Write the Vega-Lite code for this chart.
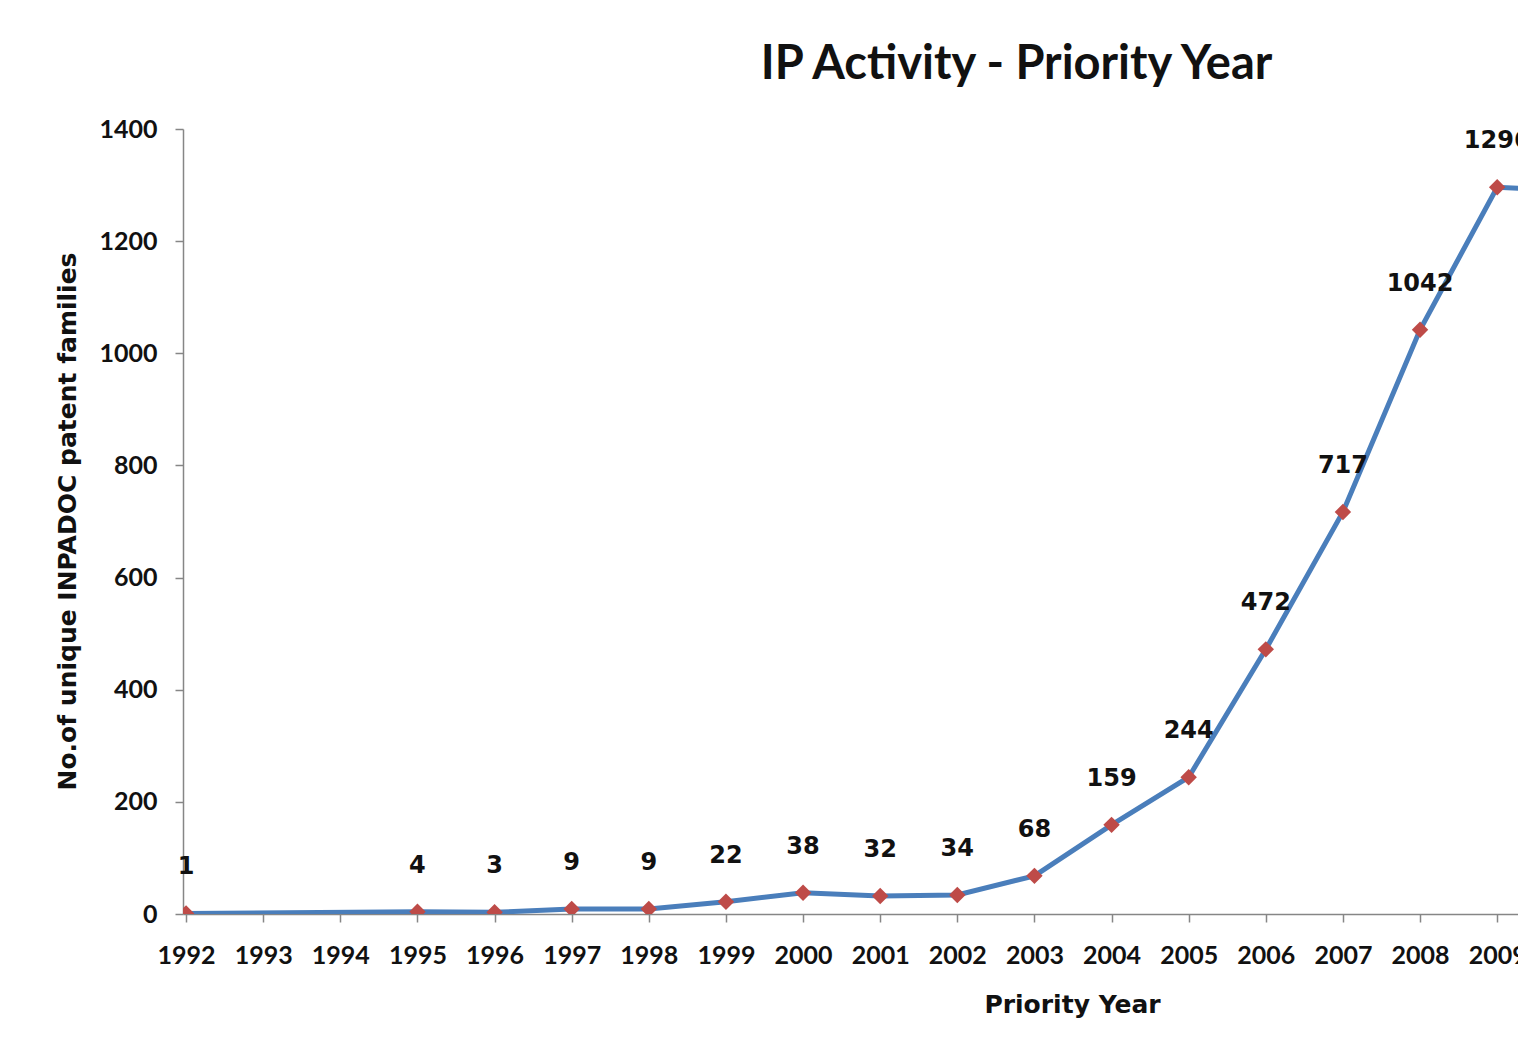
{
  "$schema": "https://vega.github.io/schema/vega-lite/v6.json",
  "autosize": "none",
  "width": 1335,
  "height": 785,
  "padding": {"left": 183, "top": 129, "right": 0, "bottom": 145},
  "background": "white",
  "title": {
    "text": "IP Activity - Priority Year",
    "font": "Lato",
    "fontSize": 47,
    "fontWeight": "bold",
    "color": "#111111",
    "anchor": "middle",
    "dx": 166,
    "offset": 28
  },
  "data": {
    "values": [
      {"year": 1992, "count": 1},
      {"year": 1995, "count": 4},
      {"year": 1996, "count": 3},
      {"year": 1997, "count": 9},
      {"year": 1998, "count": 9},
      {"year": 1999, "count": 22},
      {"year": 2000, "count": 38},
      {"year": 2001, "count": 32},
      {"year": 2002, "count": 34},
      {"year": 2003, "count": 68},
      {"year": 2004, "count": 159},
      {"year": 2005, "count": 244},
      {"year": 2006, "count": 472},
      {"year": 2007, "count": 717},
      {"year": 2008, "count": 1042},
      {"year": 2009, "count": 1296},
      {"year": 2010, "count": 1290}
    ]
  },
  "encoding": {
    "x": {
      "field": "year",
      "type": "quantitative",
      "scale": {"domain": [1991.96, 2009.27], "nice": false, "zero": false},
      "axis": {
        "title": "Priority Year",
        "values": [1992, 1993, 1994, 1995, 1996, 1997, 1998, 1999, 2000, 2001, 2002, 2003, 2004, 2005, 2006, 2007, 2008, 2009],
        "format": "d",
        "grid": false,
        "domainColor": "#868686",
        "domainWidth": 1.5,
        "tickColor": "#868686",
        "tickSize": 8,
        "tickWidth": 1.5,
        "labelFont": "Lato",
        "labelFontSize": 25,
        "labelFontWeight": "bold",
        "labelColor": "#111111",
        "labelPadding": 21,
        "labelFlush": false,
        "labelBound": false,
        "labelOverlap": false,
        "titleFont": "DejaVu Sans",
        "titleFontSize": 25,
        "titleFontWeight": "bold",
        "titleColor": "#111111",
        "titleX": 889,
        "titleY": 98,
        "titleBaseline": "alphabetic",
        "titleAlign": "center"
      }
    },
    "y": {
      "field": "count",
      "type": "quantitative",
      "scale": {"domain": [0, 1400], "nice": false},
      "axis": {
        "title": "No.of unique INPADOC patent families",
        "values": [0, 200, 400, 600, 800, 1000, 1200, 1400],
        "format": "d",
        "grid": false,
        "domainColor": "#868686",
        "domainWidth": 1.5,
        "tickColor": "#868686",
        "tickSize": 8,
        "tickWidth": 1.5,
        "labelFont": "Lato",
        "labelFontSize": 25,
        "labelFontWeight": "bold",
        "labelColor": "#111111",
        "labelPadding": 18,
        "titleFont": "DejaVu Sans",
        "titleFontSize": 25,
        "titleFontWeight": "bold",
        "titleColor": "#111111",
        "titleAngle": 270,
        "titleX": -116,
        "titleY": 392,
        "titleAlign": "center",
        "titleBaseline": "middle"
      }
    }
  },
  "layer": [
    {
      "mark": {"type": "line", "color": "#4A7EBB", "strokeWidth": 5, "clip": true}
    },
    {
      "mark": {"type": "point", "shape": "diamond", "filled": true, "color": "#BE4B48", "size": 270, "opacity": 1, "clip": true}
    },
    {
      "mark": {"type": "text", "font": "DejaVu Sans", "fontSize": 24, "fontWeight": "bold", "color": "#111111", "dy": -46, "baseline": "middle"},
      "encoding": {"text": {"field": "count", "type": "quantitative"}},
      "transform": [{"filter": "datum.year <= 2009"}]
    }
  ],
  "config": {"view": {"stroke": null}}
}
